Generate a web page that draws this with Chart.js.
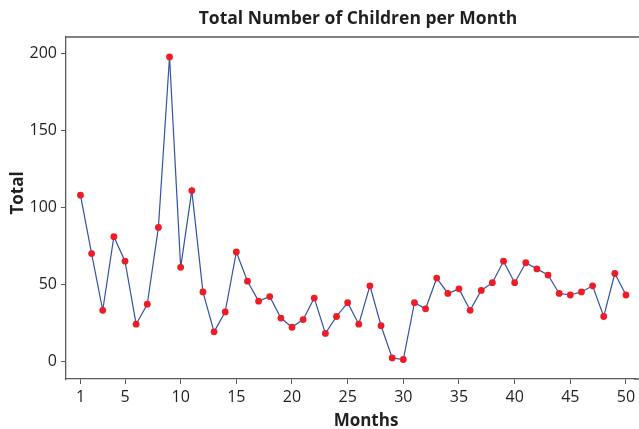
<!DOCTYPE html>
<html>
<head>
<meta charset="utf-8">
<script src="https://cdn.jsdelivr.net/npm/chart.js@4.4.0/dist/chart.umd.min.js"></script>
<style>
  html, body { margin: 0; padding: 0; background: #fff; }
  #wrap { width: 639px; height: 429px; }
</style>
</head>
<body>
<div id="wrap"><canvas id="childrenChart" width="639" height="429"></canvas></div>
<script>
// Data
const months = [1, 2, 3, 4, 5, 6, 7, 8, 9, 10,
  11, 12, 13, 14, 15, 16, 17, 18, 19, 20,
  21, 22, 23, 24, 25, 26, 27, 28, 29, 30,
  31, 32, 33, 34, 35, 36, 37, 38, 39, 40,
  41, 42, 43, 44, 45, 46, 47, 48, 49, 50];
const totals = [108, 70, 33, 81, 65, 24, 37, 87, 198, 61,
  111, 45, 19, 32, 71, 52, 39, 42, 28, 22,
  27, 41, 18, 29, 38, 24, 49, 23, 2, 1,
  38, 34, 54, 44, 47, 33, 46, 51, 65, 51,
  64, 60, 56, 44, 43, 45, 49, 29, 57, 43];
const xTicks = [1, 5, 10, 15, 20, 25, 30, 35, 40, 45, 50];
const yTicks = [0, 50, 100, 150, 200];

const chartTitle = 'Total Number of Children per Month';
const xTitle = 'Months';
const yTitle = 'Total';

const textColor = '#231f20';
const axisColor = '#5a5a5a';
const fontFamily = '"Open Sans", "Noto Sans", sans-serif';

// draws the titles and the frame lines running off the right edge
const framePlugin = {
  id: 'frame',
  afterDraw(chart) {
    const ctx = chart.ctx;
    const area = chart.chartArea;
    ctx.save();
    ctx.strokeStyle = axisColor;
    ctx.lineWidth = 1.3;
    ctx.beginPath();
    ctx.moveTo(area.left, area.top);
    ctx.lineTo(chart.width, area.top);
    ctx.moveTo(area.right - 1, area.bottom);
    ctx.lineTo(chart.width, area.bottom);
    ctx.stroke();

    ctx.fillStyle = textColor;
    ctx.textAlign = 'center';
    ctx.textBaseline = 'alphabetic';
    ctx.font = 'bold 17.5px ' + fontFamily;
    ctx.fillText(chartTitle, 358, 24);
    ctx.font = 'bold 17px ' + fontFamily;
    ctx.fillText(xTitle, 366, 426);

    ctx.translate(23, 193);
    ctx.rotate(-Math.PI / 2);
    ctx.fillText(yTitle, 0, 0);
    ctx.restore();
  }
};

document.addEventListener('DOMContentLoaded', function() {
  const ctx = document.getElementById('childrenChart').getContext('2d');

  const points = months.map((m, i) => ({ x: m, y: totals[i] }));

  new Chart(ctx, {
    type: 'line',
    data: {
      datasets: [{
        label: 'Total',
        data: points,
        borderColor: '#3452a6',
        borderWidth: 1.2,
        pointBackgroundColor: '#ee1c24',
        pointBorderWidth: 0,
        pointRadius: 3.4,
        tension: 0,
        fill: false
      }]
    },
    options: {
      responsive: false,
      animation: false,
      clip: false,
      layout: { padding: { top: 37, right: 0, left: 0, bottom: 0 } },
      plugins: {
        legend: { display: false },
        title: { display: false },
        tooltip: { enabled: false }
      },
      scales: {
        x: {
          type: 'linear',
          min: -0.3,
          max: 50.81,
          afterBuildTicks: (scale) => { scale.ticks = xTicks.map(v => ({ value: v })); },
          afterFit: (scale) => {
            scale.height = 50;
            scale.paddingLeft = 0;
            scale.paddingRight = 0;
          },
          grid: {
            drawOnChartArea: false,
            drawTicks: true,
            tickLength: 5,
            color: axisColor
          },
          border: { display: true, color: axisColor, width: 1.3 },
          ticks: {
            autoSkip: false,
            maxRotation: 0,
            padding: 4,
            color: textColor,
            font: { family: fontFamily, size: 16 }
          }
        },
        y: {
          min: -11.7,
          max: 211,
          afterBuildTicks: (scale) => { scale.ticks = yTicks.map(v => ({ value: v })); },
          afterFit: (scale) => {
            scale.width = 66;
            scale.paddingTop = 0;
            scale.paddingBottom = 0;
          },
          grid: {
            drawOnChartArea: false,
            drawTicks: true,
            tickLength: 5,
            color: axisColor
          },
          border: { display: true, color: axisColor, width: 1.3 },
          ticks: {
            padding: 4,
            color: textColor,
            font: { family: fontFamily, size: 16 }
          }
        }
      }
    },
    plugins: [framePlugin]
  });
});
</script>
</body>
</html>
